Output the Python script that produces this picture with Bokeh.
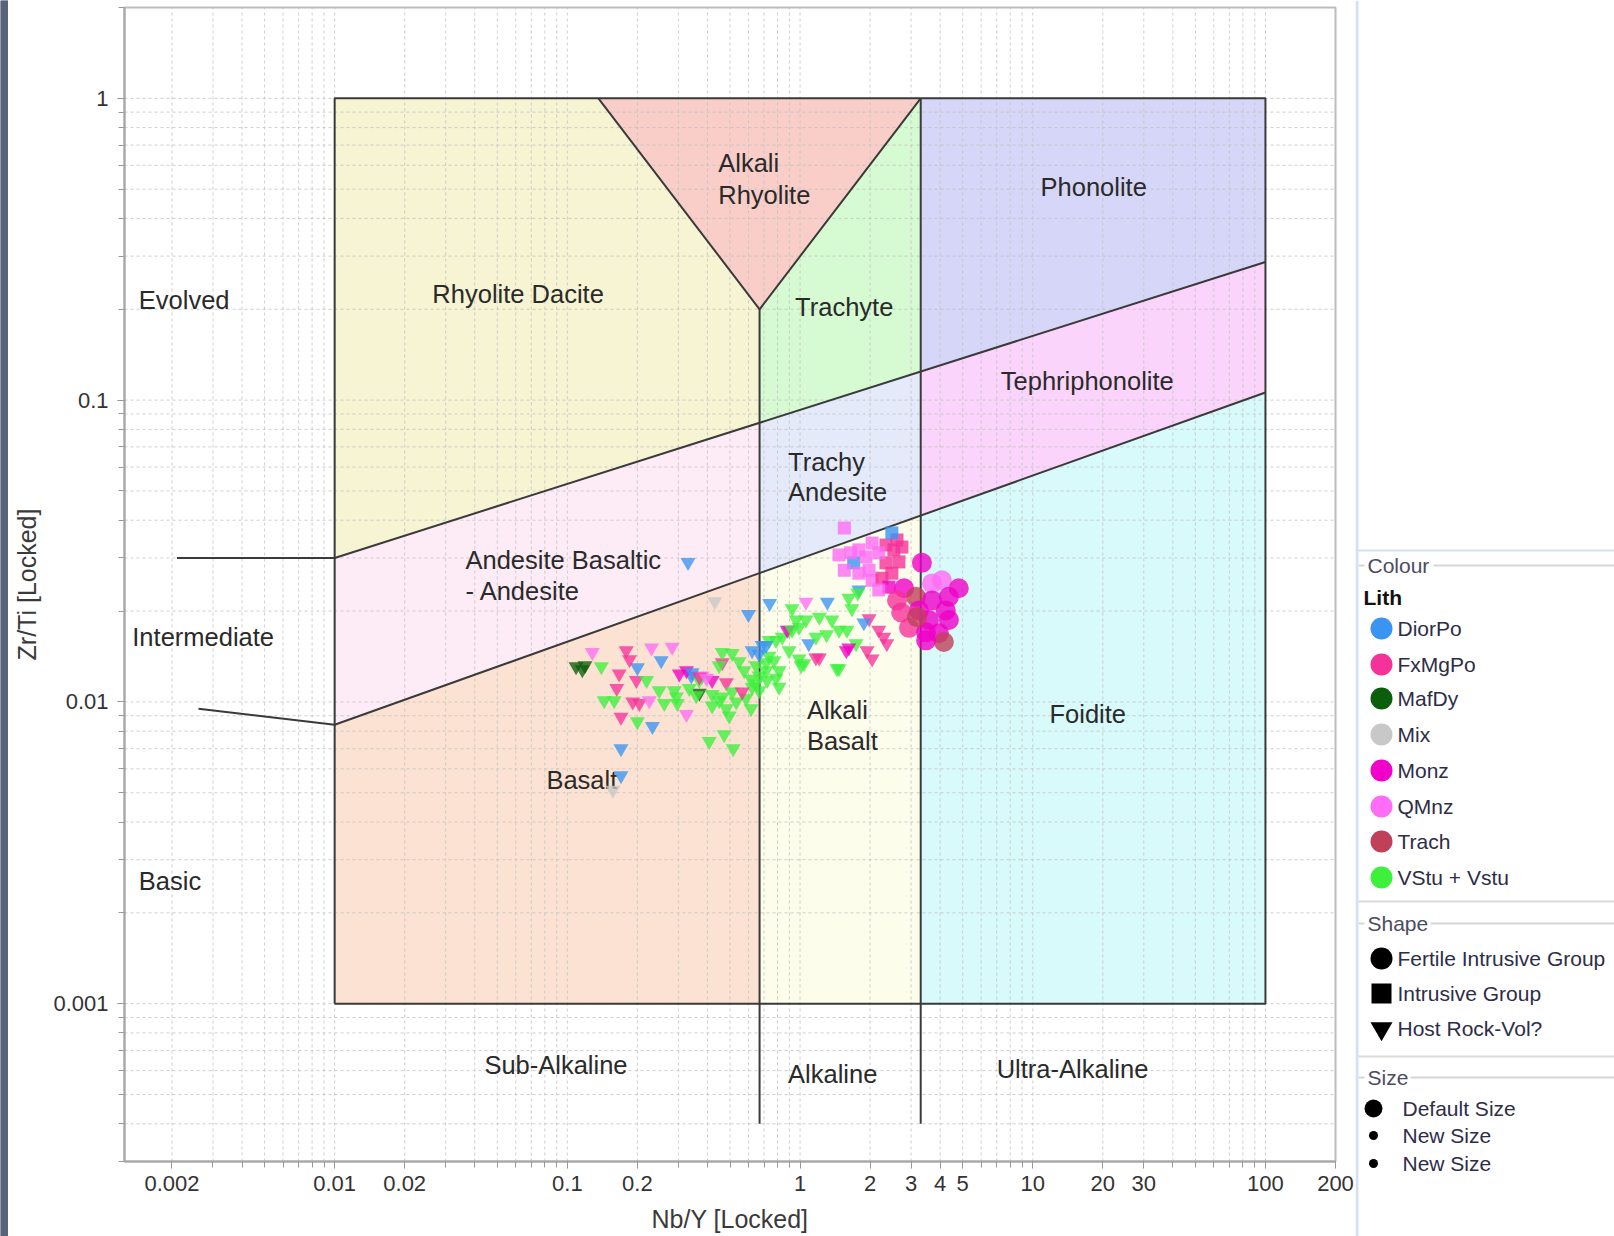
from bokeh.plotting import figure
from bokeh.models import Range1d, FixedTicker, CustomJSTickFormatter, ColumnDataSource
from bokeh.layouts import row
from bokeh.embed import file_html
from bokeh.resources import INLINE
from bokeh.core.properties import value

FONT = "Liberation Sans"

# ---------------------------------------------------------------- lithologies
lith_codes = ["D", "F", "M", "X", "Z", "Q", "T", "V"]
lith_names = ["DiorPo", "FxMgPo", "MafDy", "Mix", "Monz", "QMnz", "Trach", "VStu + Vstu"]
lith_colors = ["#3a94f2", "#f5329a", "#0b5e0b", "#c8c8c8", "#f000c8", "#ff6cf5", "#c0405a", "#3cf03c"]
lith_color = dict(zip(lith_codes, lith_colors))

# ---------------------------------------------------------------- samples
# Host Rock-Vol? (inverted triangles)
host_nb_y = [0.33, 0.43, 0.60, 0.74, 0.109, 0.116, 0.119, 0.128, 0.14, 0.179,
             0.23, 0.282, 0.253, 0.20, 0.185, 0.167, 0.198, 0.219, 0.163, 0.159,
             0.191, 0.204, 0.225, 0.17, 0.20, 0.232, 0.17, 0.17, 0.261, 0.294,
             0.325, 0.303, 0.341, 0.38, 0.419, 0.482, 0.369, 0.419, 0.463, 0.511,
             0.482, 0.496, 0.532, 0.586, 0.616, 0.622, 0.564, 0.407, 0.472, 0.516,
             0.463, 0.813, 0.369, 0.449, 0.575, 0.647, 0.715, 0.667, 0.722, 0.622,
             0.687, 0.736, 0.789, 0.838, 0.897, 0.99, 0.962, 1.06, 1.21, 1.37,
             0.924, 1.06, 1.31, 1.62, 1.79, 1.67, 0.88, 1.09, 1.17, 1.30,
             1.47, 1.59, 1.74, 1.98, 1.88, 2.18, 2.29, 2.36, 1.62, 1.94,
             2.04, 1.44, 1.21, 0.99, 1.01, 0.813, 0.773, 0.897, 0.736, 0.667,
             0.419, 0.248, 0.288, 0.334, 0.144, 0.297, 0.358, 1.77, 0.463, 0.511,
             0.547, 0.616, 0.647, 0.449, 0.715, 0.789, 0.924, 1.04, 1.17, 1.47,
             1.58, 0.715, 0.667, 0.325, 0.344, 0.369, 0.396, 0.157]
host_zr_ti = [0.029, 0.0215, 0.0195, 0.0212, 0.0131, 0.0128, 0.0132, 0.0146, 0.0131, 0.0148,
              0.0151, 0.0152, 0.0137, 0.0130, 0.0138, 0.0124, 0.0118, 0.0118, 0.0111, 0.0101,
              0.0100, 0.0099, 0.0101, 0.0089, 0.0086, 0.0083, 0.0070, 0.0057, 0.0099, 0.0104,
              0.0091, 0.0124, 0.0122, 0.0122, 0.0118, 0.0116, 0.0107, 0.0106, 0.0104, 0.0108,
              0.0095, 0.0090, 0.0100, 0.0103, 0.0095, 0.0112, 0.0108, 0.0074, 0.0078, 0.0070,
              0.0135, 0.0112, 0.0118, 0.0132, 0.0127, 0.0132, 0.0135, 0.0122, 0.0118, 0.0148,
              0.0154, 0.0160, 0.0160, 0.0164, 0.0173, 0.0177, 0.0187, 0.0187, 0.0191, 0.0187,
              0.0204, 0.0214, 0.0214, 0.0221, 0.0235, 0.0204, 0.0173, 0.0156, 0.0164, 0.0167,
              0.0173, 0.0173, 0.0156, 0.0189, 0.0183, 0.0173, 0.0164, 0.0156, 0.0151, 0.0148,
              0.0139, 0.0129, 0.0140, 0.0139, 0.0132, 0.0127, 0.0137, 0.0148, 0.0142, 0.0109,
              0.0097, 0.0109, 0.0109, 0.0111, 0.0101, 0.0099, 0.0105, 0.0230, 0.0146, 0.0145,
              0.0136, 0.0119, 0.0115, 0.0101, 0.0127, 0.0120, 0.0173, 0.0134, 0.0140, 0.0129,
              0.0148, 0.0154, 0.0144, 0.0127, 0.0125, 0.0121, 0.0120, 0.0051]
host_lith = ["D", "X", "D", "D", "M", "M", "M", "Q", "V", "F",
             "Q", "Q", "D", "D", "F", "F", "F", "V", "F", "V",
             "F", "F", "Q", "F", "V", "D", "D", "D", "V", "V",
             "Q", "Z", "D", "Q", "Z", "F", "M", "V", "V", "V",
             "V", "V", "V", "V", "V", "V", "F", "V", "V", "V",
             "F", "V", "V", "V", "V", "V", "V", "V", "V", "D",
             "D", "V", "V", "V", "V", "V", "V", "V", "V", "V",
             "V", "Q", "D", "V", "D", "V", "Z", "D", "V", "V",
             "V", "V", "V", "F", "D", "F", "F", "F", "Z", "F",
             "F", "V", "F", "V", "V", "V", "V", "V", "V", "V",
             "V", "V", "V", "V", "V", "V", "V", "V", "V", "V",
             "V", "V", "V", "V", "V", "V", "V", "V", "F", "V",
             "Z", "D", "D", "Z", "D", "F", "Q", "X"]

# Intrusive Group (squares)
intr_nb_y = [1.55, 1.79, 2.04, 2.34, 2.61, 2.48, 2.53, 2.66, 2.34, 1.98,
             1.70, 1.55, 1.79, 2.04, 2.25, 2.41, 2.18, 1.65, 1.92, 2.18,
             2.48, 1.47, 2.74]
intr_zr_ti = [0.0377, 0.0319, 0.0336, 0.0331, 0.0344, 0.0363, 0.0319, 0.0291, 0.0289, 0.0273,
              0.0289, 0.0273, 0.0267, 0.0253, 0.0257, 0.0240, 0.0235, 0.0312, 0.0302, 0.0312,
              0.0267, 0.0307, 0.0326]
intr_lith = ["Q", "Q", "Q", "F", "F", "D", "F", "F", "F", "Q",
             "D", "Q", "Q", "Q", "F", "Z", "Q", "Q", "Q", "Q",
             "F", "Q", "F"]

# Fertile Intrusive Group (circles)
fert_nb_y = [3.34, 2.80, 3.15, 2.61, 3.69, 4.07, 4.81, 4.36, 3.69, 4.23,
             3.24, 2.72, 3.58, 4.36, 2.94, 3.48, 3.95, 4.15, 3.48, 3.18]
fert_zr_ti = [0.0289, 0.0238, 0.0223, 0.0217, 0.0247, 0.0253, 0.0238, 0.0223, 0.0217, 0.0201,
              0.0201, 0.0198, 0.0187, 0.0187, 0.0176, 0.0170, 0.0169, 0.0158, 0.0160, 0.0191]
fert_lith = ["Z", "Z", "T", "F", "Q", "Q", "Z", "Z", "Z", "Z",
             "Z", "F", "Z", "Z", "F", "Z", "Z", "T", "Z", "T"]

# ---------------------------------------------------------------- diagram geometry
box_x = [0.01, 100]
box_y = [0.001, 1]
subalk_x = 0.67        # sub-alkaline / alkaline divide
ultra_x = 3.3          # alkaline / ultra-alkaline divide
tri_left_x = 0.136     # alkali rhyolite wedge
tri_apex_y = 0.2
divide_bottom_y = 0.0004
upper_line_x = [0.0021, 0.01, 100]
upper_line_y = [0.03, 0.03, 0.287]
lower_line_x = [0.0026, 0.01, 100]
lower_line_y = [0.0095, 0.0084, 0.106]

region_names = ["Rhyolite Dacite", "Alkali Rhyolite", "Trachyte", "Phonolite", "Tephriphonolite",
                "Trachy Andesite", "Andesite Basaltic", "Basalt", "Alkali Basalt", "Foidite"]
region_colors = ["#f6f4d2", "#f9cec8", "#d6fad2", "#d6d6f8", "#fad4fa",
                 "#e4eafa", "#fdecf6", "#fce2d2", "#fdfdec", "#d8fafa"]

# label text and anchor (left edge, vertical middle)
label_text = ["Evolved", "Intermediate", "Basic", "Rhyolite Dacite", "Alkali", "Rhyolite",
              "Trachyte", "Phonolite", "Tephriphonolite", "Trachy", "Andesite",
              "Andesite Basaltic", "- Andesite", "Alkali", "Basalt", "Basalt", "Foidite",
              "Sub-Alkaline", "Alkaline", "Ultra-Alkaline"]
label_x = [0.00144, 0.00135, 0.00144, 0.0263, 0.445, 0.445, 0.952, 10.8, 7.29, 0.888, 0.888,
           0.0365, 0.0365, 1.07, 1.07, 0.0813, 11.8, 0.044, 0.888, 7.0]
label_y = [0.215, 0.0164, 0.00256, 0.224, 0.609, 0.48, 0.204, 0.51, 0.116, 0.0624, 0.0497,
           0.0295, 0.0233, 0.00938, 0.0074, 0.0055, 0.0091, 0.000627, 0.000585, 0.000608]

x_major_ticks = [0.002, 0.01, 0.02, 0.1, 0.2, 1, 2, 3, 4, 5, 10, 20, 30, 100, 200]
y_major_ticks = [0.001, 0.01, 0.1, 1]
X_LO, X_HI = 0.00125, 200
Y_LO, Y_HI = 0.0003, 2


def decade_steps(lo, hi, first_exp, last_exp):
    vals = []
    for e in range(first_exp, last_exp + 1):
        for k in range(1, 10):
            v = float(f"{k}e{e}")
            if lo <= v <= hi:
                vals.append(v)
    return vals


x_minor = decade_steps(X_LO, X_HI, -3, 2)
y_minor = decade_steps(Y_LO, Y_HI, -4, 0)


def on_line(xs, ys, x):
    """y on a straight line in log-log space through the last two vertices."""
    import math
    x0, x1 = xs[-2], xs[-1]
    y0, y1 = ys[-2], ys[-1]
    t = (math.log10(x) - math.log10(x0)) / (math.log10(x1) - math.log10(x0))
    return 10 ** (math.log10(y0) + t * (math.log10(y1) - math.log10(y0)))


def U(x):
    return on_line(upper_line_x, upper_line_y, x)


def L(x):
    return on_line(lower_line_x, lower_line_y, x)


xa, xb = box_x
yb, yt = box_y
xs_, xu = subalk_x, ultra_x
polys = [
    [(xa, yt), (tri_left_x, yt), (xs_, tri_apex_y), (xs_, U(xs_)), (xa, U(xa))],
    [(tri_left_x, yt), (xu, yt), (xs_, tri_apex_y)],
    [(xs_, tri_apex_y), (xu, yt), (xu, U(xu)), (xs_, U(xs_))],
    [(xu, yt), (xb, yt), (xb, U(xb)), (xu, U(xu))],
    [(xu, U(xu)), (xb, U(xb)), (xb, L(xb)), (xu, L(xu))],
    [(xs_, U(xs_)), (xu, U(xu)), (xu, L(xu)), (xs_, L(xs_))],
    [(xa, U(xa)), (xs_, U(xs_)), (xs_, L(xs_)), (xa, L(xa))],
    [(xa, L(xa)), (xs_, L(xs_)), (xs_, yb), (xa, yb)],
    [(xs_, L(xs_)), (xu, L(xu)), (xu, yb), (xs_, yb)],
    [(xu, L(xu)), (xb, L(xb)), (xb, yb), (xu, yb)],
]

# ---------------------------------------------------------------- main plot
p = figure(x_axis_type="log", y_axis_type="log",
           x_range=Range1d(X_LO, X_HI), y_range=Range1d(Y_LO, Y_HI),
           frame_width=1211, frame_height=1154,
           min_border_left=116, min_border_right=20, min_border_top=7, min_border_bottom=75,
           output_backend="svg", toolbar_location=None, frame_align=False,
           background_fill_color="white", border_fill_color="white",
           outline_line_color="#bcbcbc", outline_line_width=2)
p.grid.visible = False

p.patches(xs=[[v[0] for v in poly] for poly in polys],
          ys=[[v[1] for v in poly] for poly in polys],
          fill_color=region_colors, line_color=None)

# dashed grid over the fills
p.segment(x0=x_minor, y0=[Y_LO] * len(x_minor), x1=x_minor, y1=[Y_HI] * len(x_minor),
          line_color="#c2c2c2", line_width=1, line_dash="3 3", line_alpha=0.8)
p.segment(x0=[X_LO] * len(y_minor), y0=y_minor, x1=[X_HI] * len(y_minor), y1=y_minor,
          line_color="#c2c2c2", line_width=1, line_dash="3 3", line_alpha=0.8)

# boundaries
bx = [[xa, xb, xb, xa, xa],
      [xs_, xs_],
      [xu, xu],
      [tri_left_x, xs_, xu],
      upper_line_x,
      lower_line_x]
by = [[yb, yb, yt, yt, yb],
      [divide_bottom_y, tri_apex_y],
      [divide_bottom_y, yt],
      [yt, tri_apex_y, yt],
      upper_line_y,
      lower_line_y]
p.multi_line(xs=bx, ys=by, line_color="#3a3a3a", line_width=2)

p.text(x=label_x, y=label_y, text=label_text, text_font=value(FONT),
       text_font_size="25.5px", text_color="#2a2a2a",
       text_align="left", text_baseline="middle")

host_src = ColumnDataSource(dict(x=host_nb_y, y=host_zr_ti, c=[lith_color[k] for k in host_lith]))
intr_src = ColumnDataSource(dict(x=intr_nb_y, y=intr_zr_ti, c=[lith_color[k] for k in intr_lith]))
fert_src = ColumnDataSource(dict(x=fert_nb_y, y=fert_zr_ti, c=[lith_color[k] for k in fert_lith]))
p.scatter("x", "y", source=host_src, marker="inverted_triangle", size=15,
          fill_color="c", fill_alpha=0.78, line_color=None)
p.scatter("x", "y", source=intr_src, marker="square", size=13,
          fill_color="c", fill_alpha=0.8, line_color=None)
p.scatter("x", "y", source=fert_src, marker="circle", size=20,
          fill_color="c", fill_alpha=0.8, line_color=None)

fmt = CustomJSTickFormatter(code="return String(tick);")
p.xaxis.ticker = FixedTicker(ticks=x_major_ticks, minor_ticks=x_minor)
p.yaxis.ticker = FixedTicker(ticks=y_major_ticks, minor_ticks=y_minor)
p.xaxis.formatter = fmt
p.yaxis.formatter = fmt
p.xaxis.axis_label = "Nb/Y [Locked]"
p.yaxis.axis_label = "Zr/Ti [Locked]"
for ax in (p.xaxis[0], p.yaxis[0]):
    ax.axis_line_color = "#a6a6a6"
    ax.axis_line_width = 2
    ax.major_tick_line_color = "#8a8a8a"
    ax.minor_tick_line_color = "#9a9a9a"
    ax.major_tick_in = 0
    ax.major_tick_out = 7
    ax.minor_tick_in = 0
    ax.minor_tick_out = 6
    ax.major_label_text_font = FONT
    ax.major_label_text_font_size = "22px"
    ax.major_label_text_color = "#333333"
    ax.axis_label_text_font = FONT
    ax.axis_label_text_font_size = "25px"
    ax.axis_label_text_font_style = "normal"
    ax.axis_label_text_color = "#3a3a3a"
p.xaxis.major_label_standoff = 7
p.xaxis.axis_label_standoff = 11
p.yaxis.major_label_standoff = 9
p.yaxis.axis_label_standoff = 9

# ---------------------------------------------------------------- side strip
strip = figure(width=8, height=1236, min_border=0, toolbar_location=None,
               output_backend="svg", x_range=Range1d(0, 1), y_range=Range1d(0, 1),
               x_axis_location=None, y_axis_location=None, outline_line_color=None,
               frame_align=False,
               background_fill_color="#58627a", border_fill_color="#58627a")
strip.grid.visible = False
strip.quad(left=[0], right=[1], bottom=[0], top=[1], fill_color="#58627a", line_color=None)

# ---------------------------------------------------------------- legend panel
lg = figure(width=259, height=1236, min_border=0, toolbar_location=None,
            output_backend="svg", x_range=Range1d(0, 259), y_range=Range1d(1236, 0),
            x_axis_location=None, y_axis_location=None, outline_line_color=None,
            frame_align=False,
            background_fill_color="white", border_fill_color="white")
lg.grid.visible = False

lg.segment(x0=[1.5], y0=[0], x1=[1.5], y1=[1236], line_color="#d5e1f1", line_width=3)
lg.segment(x0=[0], y0=[550], x1=[259], y1=[550], line_color="#d5e1f1", line_width=2)
lg.segment(x0=[3, 3], y0=[901, 1056], x1=[259, 259], y1=[901, 1056],
           line_color="#dadada", line_width=2)

head_text = ["Colour", "Shape", "Size"]
head_y = [565, 923, 1077]
head_rule_x = [78, 75, 55]
lg.segment(x0=[3] * 3, y0=head_y, x1=[9] * 3, y1=head_y, line_color="#d6d6d6", line_width=2)
lg.segment(x0=head_rule_x, y0=head_y, x1=[259] * 3, y1=head_y, line_color="#d6d6d6", line_width=2)
lg.text(x=[12] * 3, y=head_y, text=head_text, text_font=value(FONT), text_font_size="21px",
        text_color="#4c4c60", text_align="left", text_baseline="middle")
lg.text(x=[8], y=[597], text=["Lith"], text_font=value(FONT), text_font_size="21px",
        text_font_style="bold", text_color="#111111", text_align="left", text_baseline="middle")

item_y = [628, 664, 698, 734, 770, 806, 841, 877]
lg.scatter(x=[26] * len(item_y), y=item_y, marker="circle", size=22,
           fill_color=lith_colors, line_color=None)
lg.text(x=[42] * len(item_y), y=item_y, text=lith_names, text_font=value(FONT),
        text_font_size="21px", text_color="#2d2d48", text_align="left", text_baseline="middle")

shape_names = ["Fertile Intrusive Group", "Intrusive Group", "Host Rock-Vol?"]
shape_y = [958, 993, 1028]
lg.scatter(x=[26], y=[958], marker="circle", size=22, fill_color="black", line_color=None)
lg.scatter(x=[26], y=[993], marker="square", size=20, fill_color="black", line_color=None)
lg.scatter(x=[26], y=[1028], marker="inverted_triangle", size=22, fill_color="black", line_color=None)
lg.text(x=[42] * 3, y=shape_y, text=shape_names, text_font=value(FONT),
        text_font_size="21px", text_color="#2d2d48", text_align="left", text_baseline="middle")

size_names = ["Default Size", "New Size", "New Size"]
size_y = [1108, 1135, 1163]
lg.scatter(x=[18] * 3, y=size_y, marker="circle", size=[18, 9, 9], fill_color="black", line_color=None)
lg.text(x=[47] * 3, y=size_y, text=size_names, text_font=value(FONT),
        text_font_size="21px", text_color="#2d2d48", text_align="left", text_baseline="middle")

layout = row(strip, p, lg, spacing=0)
open("out.html", "w").write(file_html(layout, INLINE))
